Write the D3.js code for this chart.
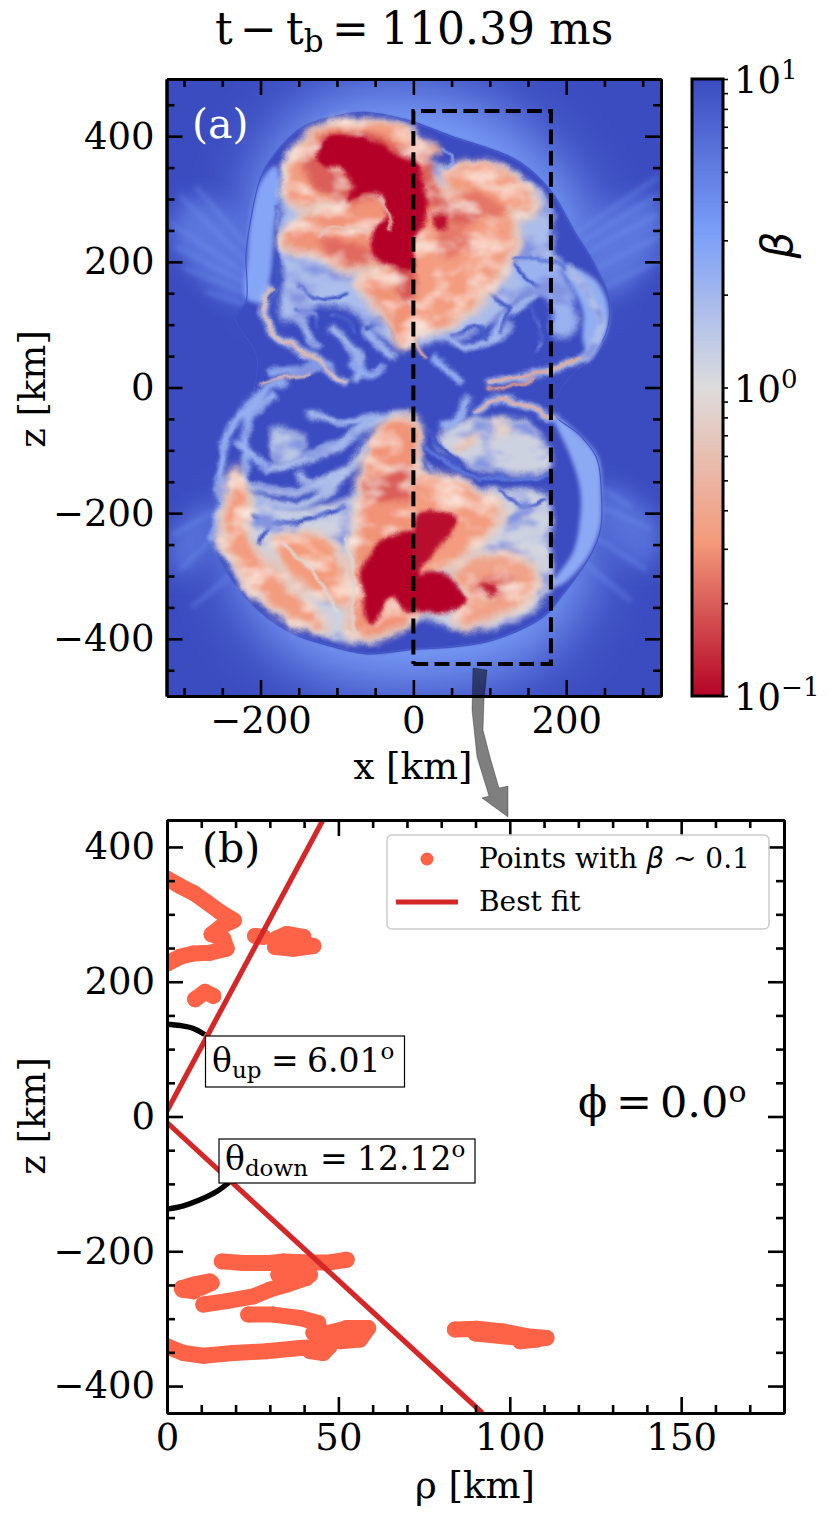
<!DOCTYPE html>
<html>
<head>
<meta charset="utf-8">
<script src="https://cdn.jsdelivr.net/npm/d3@7"></script>
<style>
  html, body { margin: 0; padding: 0; background: #fff; }
  svg text { font-family: "DejaVu Serif", serif; fill: #000; }
  .tick line { stroke: #000; stroke-width: 2.6; }
  .domain { stroke: #000; stroke-width: 3; fill: none; }
</style>
</head>
<body>
<div id="main"></div>
<script>
width = 830;
height = 1515;

// top panel, beta field: [beta, [[x km, z km], ...]]
xTicksTop = [-200, 0, 200];
zTicksTop = [-400, -200, 0, 200, 400];
xMinorTop = [-300, -250, -150, -100, -50, 50, 100, 150, 250, 300];
zMinorTop = [-450, -350, -300, -250, -150, -100, -50, 50, 100, 150, 250, 300, 350, 450];
cbarTicks = [0.1, 1, 10];
cbarMinor = [0.2, 0.3, 0.4, 0.5, 0.6, 0.7, 0.8, 0.9, 2, 3, 4, 5, 6, 7, 8, 9];
fitBox = [[0, -440], [180, -440], [180, 440], [0, 440], [0, -440]];

glowRegions = [
    [3.2, [[-205, 200], [-195, 360], [-120, 455], [0, 475], [120, 430], [225, 285], [235, 190], [120, 130], [-120, 130]]],
    [3.2, [[-235, -225], [-225, -325], [-150, -435], [0, -475], [150, -435], [225, -325], [225, -225], [120, -190], [-120, -190]]]
];
sideFans = [
    [5.5, [[-222, 135], [-222, 260], [-295, 300], [-315, 235]]],
    [5.5, [[215, 245], [252, 150], [320, 215], [320, 300]]],
    [6, [[-258, -185], [-264, -255], [-310, -300], [-318, -235]]],
    [6, [[246, -155], [246, -235], [310, -285], [322, -215]]]
];

rays = [
    [[-218, 200], [-305, 305]], [[-218, 180], [-318, 262]], [[-218, 165], [-312, 225]], [[-218, 150], [-300, 190]], [[-218, 132], [-272, 152]],
    [[-217, 225], [-285, 320]],
    [[212, 245], [320, 335]], [[220, 232], [318, 305]], [[228, 215], [318, 275]], [[240, 190], [320, 240]], [[250, 160], [325, 205]],
    [[-258, -195], [-315, -235]], [[-262, -240], [-305, -290]], [[-240, -300], [-290, -350]],
    [[246, -160], [285, -190]], [[246, -190], [310, -225]], [[240, -240], [305, -290]], [[225, -280], [285, -340]]
];

shockFront = [[-219, 136], [-219, 211], [-214, 258], [-200, 333], [-179, 375], [-144, 415], [-105, 431], [-65, 438], [-26, 431], [0, 423], [52, 399], [105, 378], [139, 359], [179, 314], [211, 248], [235, 200], [253, 152], [257, 120], [251, 83], [231, 46], [200, 10], [183, -39], [218, -76], [240, -113], [246, -166], [245, -225], [234, -262], [215, -298], [195, -330], [170, -365], [105, -402], [52, -413], [0, -417], [-61, -424], [-113, -410], [-157, -392], [-200, -357], [-235, -309], [-261, -251], [-264, -235], [-253, -193], [-253, -145], [-244, -92], [-227, -44], [-210, -7], [-205, 50], [-233, 112]];

// smooth pale bands just inside the shock
shellBands = [
    [2.8, [[-219, 142], [-217, 211], [-214, 258], [-200, 327], [-180, 353], [-174, 322], [-182, 253], [-187, 179], [-198, 136]]],
    [2.4, [[192, 195], [213, 189], [240, 169], [255, 126], [251, 83], [231, 51], [222, 73], [222, 121], [209, 158]]],
    [2.6, [[183, -44], [218, -76], [242, -113], [246, -166], [244, -225], [227, -272], [192, -315], [181, -315], [209, -262], [218, -209], [218, -161], [205, -108]]]
];

paleRegions = [
    [1.8, [[-174, 296], [-167, 349], [-148, 389], [-113, 415], [-61, 423], [0, 407], [0, 94], [-17, 67], [-52, 89], [-87, 126], [-126, 126], [-157, 105], [-174, 105], [-172, 179], [-179, 243]]],
    [1.8, [[17, 359], [39, 349], [96, 357], [144, 333], [179, 285], [185, 211], [196, 195], [170, 169], [131, 136], [105, 105], [61, 78], [17, 67], [0, 67], [0, 359]]],
    [2.2, [[131, 200], [183, 195], [209, 147], [209, 83], [183, 83], [179, 136], [139, 168]]],
    [1.2, [[-248, -224], [-231, -166], [-157, -193], [-70, -161], [-30, -55], [0, -55], [4, -145], [105, -161], [174, -171], [179, -251], [179, -325], [122, -378], [52, -381], [0, -368], [-52, -405], [-122, -394], [-187, -347], [-231, -299], [-257, -246]]],
    [1.2, [[30, -87], [52, -55], [105, -50], [148, -55], [174, -92], [179, -129], [126, -137], [61, -118]]],
    [1.5, [[-183, -65], [-144, -76], [-148, -113], [-179, -118]]]
];

// whitish rims under the orange patches
rimRegions = [
    [0.7, [[-172, 340], [-152, 395], [-113, 425], [-61, 428], [0, 410], [0, 280], [-70, 285], [-113, 280], [-148, 275], [-170, 300]]],
    [0.7, [[-178, 235], [-150, 272], [-105, 293], [-48, 312], [-20, 274], [-20, 190], [-52, 180], [-96, 185], [-131, 205], [-160, 212]]],
    [0.7, [[-80, 170], [-35, 195], [2, 195], [4, 85], [-17, 58], [-40, 105], [-65, 140]]],
    [0.7, [[0, 365], [30, 330], [48, 320], [87, 315], [130, 285], [145, 230], [115, 170], [95, 130], [55, 98], [26, 82], [0, 88]]],
    [0.7, [[35, 345], [61, 360], [100, 362], [140, 335], [165, 295], [160, 270], [120, 270], [70, 300]]],
    [0.7, [[-85, -400], [-90, -300], [-80, -205], [-75, -155], [-68, -105], [-32, -45], [4, -45], [12, -145], [12, -357], [-30, -398]]],
    [0.7, [[4, -135], [55, -140], [92, -162], [125, -198], [95, -250], [65, -277], [18, -305], [0, -305]]],
    [0.7, [[45, -296], [85, -265], [130, -260], [162, -285], [170, -312], [152, -345], [115, -368], [65, -388], [48, -360], [66, -325]]],
    [0.7, [[-256, -222], [-232, -120], [-212, -171], [-210, -235], [-185, -278], [-150, -318], [-105, -388], [-152, -385], [-200, -345], [-235, -292]]],
    [0.7, [[-188, -244], [-139, -225], [-95, -258], [-80, -355], [-125, -335], [-165, -305], [-182, -275]]]
];

orangeRegions = [
    [0.33, [[-163, 338], [-148, 386], [-113, 415], [-61, 420], [0, 404], [0, 296], [-70, 301], [-113, 296], [-148, 290], [-166, 306]]],
    [0.3, [[-170, 237], [-148, 264], [-105, 285], [-48, 304], [-26, 274], [-26, 200], [-52, 195], [-96, 195], [-131, 216], [-157, 221]]],
    [0.3, [[-70, 168], [-35, 189], [-2, 189], [0, 94], [-17, 70], [-35, 115], [-57, 147]]],
    [0.33, [[0, 359], [13, 349], [30, 322], [48, 312], [87, 306], [122, 285], [131, 232], [105, 179], [87, 142], [52, 110], [26, 94], [0, 99]]],
    [0.33, [[39, 338], [61, 351], [96, 354], [131, 333], [153, 301], [153, 285], [131, 285], [105, 296], [70, 312], [48, 322]]],
    [0.45, [[4, 394], [30, 389], [39, 378], [26, 367], [13, 370]]],
    [0.3, [[-74, -394], [-78, -304], [-70, -214], [-65, -161], [-61, -113], [-30, -55], [-4, -55], [2, -145], [2, -357], [-35, -389]]],
    [0.33, [[-246, -219], [-227, -134], [-221, -171], [-219, -235], [-192, -283], [-157, -325], [-118, -381], [-148, -373], [-192, -336], [-227, -288]]],
    [0.32, [[-179, -246], [-139, -235], [-105, -262], [-89, -347], [-122, -325], [-157, -299], [-174, -272]]],
    [0.33, [[4, -145], [52, -150], [87, -171], [109, -198], [87, -240], [61, -267], [13, -299], [2, -299]]],
    [0.36, [[52, -299], [87, -275], [126, -270], [153, -288], [159, -309], [144, -336], [113, -357], [70, -378], [57, -357], [74, -325]]],
    [0.6, [[52, -97], [83, -76], [78, -92], [57, -102]]],
    [0.8, [[105, -50], [131, -65], [109, -81]]],
    [0.2, [[-144, 370], [-122, 402], [-70, 410], [-9, 380], [0, 349], [-70, 290], [-96, 298], [-135, 327]]],
    [0.22, [[-126, 232], [-105, 237], [-70, 227], [-52, 205], [-70, 195], [-100, 205]]],
    [0.18, [[-26, 189], [-2, 189], [-2, 131], [-15, 147]]],
    [0.2, [[4, 386], [15, 383], [30, 327], [52, 301], [87, 274], [61, 256], [35, 274], [17, 296]]],
    [0.24, [[31, 248], [74, 248], [78, 227], [39, 211]]],
    [0.24, [[61, 306], [87, 309], [122, 285], [105, 269], [74, 285]]],
    [0.2, [[-65, -156], [-52, -145], [-4, -124], [-2, -171], [-35, -182], [-57, -177]]],
    [0.22, [[78, -315], [100, -299], [131, -299], [131, -320], [109, -336], [87, -325]]]
];

// saturated cores, beta at the bottom of the colour range
redRegions = [
    [0.1, [[-126, 375], [-113, 398], [-83, 399], [-44, 389], [-13, 365], [2, 357], [17, 306], [20, 274], [2, 243], [0, 195], [-9, 189], [-30, 192], [-52, 205], [-57, 227], [-44, 258], [-35, 274], [-44, 304], [-70, 306], [-87, 298], [-81, 325], [-96, 349], [-122, 354]]],
    [0.11, [[28, 274], [44, 272], [44, 253], [28, 253]]],
    [0.1, [[-70, -299], [-48, -251], [-26, -235], [-2, -230], [-2, -357], [-30, -336], [-52, -376], [-63, -368], [-65, -325]]],
    [0.11, [[4, -203], [61, -209], [39, -246], [13, -283], [2, -294]]],
    [0.1, [[2, -304], [22, -294], [44, -299], [61, -320], [70, -341], [52, -352], [17, -360], [2, -352]]],
    [0.12, [[87, -317], [105, -317], [109, -331], [100, -333]]]
];

wideStrands = [
    [1.6, [[-187, 158], [-196, 115], [-185, 89], [-157, 65], [-126, 44], [-109, 22], [-89, 10]]],
    [1.7, [[98, 6], [179, 28], [227, 51], [244, 105], [231, 147], [205, 189]]],
    [1.9, [[83, -39], [100, -23], [131, -23], [183, -47]]],
    [1.7, [[-214, -177], [-148, -187], [-91, -145], [-65, -92]]],
    [1.7, [[-214, -156], [-157, -166], [-87, -129]]],
    [1.8, [[-187, -129], [-122, -108], [-35, -44]]],
    [2.3, [[-261, -235], [-253, -193], [-248, -92], [-227, -44], [-200, -10], [-170, 9]]],
    [2.3, [[-218, -145], [-213, -39], [-183, -17]]],
    [2, [[-135, -44], [-87, -55], [-48, -44], [-17, -44]]],
    [2, [[-157, 126], [-144, 94], [-126, 67]]],
    [2, [[-105, 94], [-87, 67], [-70, 46], [-74, 14]]],
    [2, [[-61, 89], [-35, 57], [-26, 51]]],
    [2, [[44, 89], [61, 67], [83, 67], [126, 94]]],
    [2, [[105, 83], [122, 115], [157, 147]]],
    [1.4, [[-200, -200], [-150, -210], [-100, -200], [-70, -170]]],
    [1.8, [[-150, -140], [-120, -160], [-100, -140]]],
    [2.2, [[-230, -90], [-190, -130]]],
    [2, [[-60, -60], [-100, -90], [-140, -110]]],
    [1, [[60, -170], [110, -200], [160, -200]]],
    [1.1, [[120, -250], [170, -260]]],
    [2.4, [[-185, 25], [-140, 30], [-110, 35]]],
    [2.4, [[-80, 40], [-60, 20], [-40, 30]]],
    [2.4, [[30, 45], [50, 25], [60, 10]]],
    [2.2, [[70, -20], [60, -45], [40, -60]]]
];

// dark threads cut into the pale parts
voidStrands = [
    [9, [[-181, 285], [-179, 190], [-187, 142]]],
    [9, [[-150, 160], [-120, 140], [-90, 150]]],
    [9, [[-60, 90], [-40, 110], [-20, 60]]],
    [8, [[131, 205], [150, 170], [175, 160]]],
    [8, [[150, 130], [165, 100], [160, 60]]],
    [8, [[100, 150], [125, 130], [115, 90]]],
    [9, [[-214, -200], [-170, -215], [-120, -205], [-90, -190]]],
    [9, [[-200, -250], [-190, -220]]],
    [8, [[110, -165], [150, -190], [172, -180]]],
    [9, [[6, -70], [15, -110], [40, -140]]],
    [9, [[12, -60], [40, -100], [60, -125]]],
    [8, [[-152, 126], [-135, 118], [-126, 99]]],
    [8, [[-105, 115], [-87, 110], [-78, 89]]],
    [8, [[52, 83], [83, 94], [96, 78]]]
];

thinStrands = [
    [0.55, [[-187, 158], [-196, 115], [-185, 89], [-157, 65], [-126, 44], [-109, 22], [-89, 10]]],
    [0.6, [[-200, 4], [-165, 17], [-135, 22]]],
    [0.42, [[98, 6], [135, 17], [179, 28], [218, 46]]],
    [0.35, [[96, -4], [105, -7], [157, 14]]],
    [0.45, [[83, -39], [100, -23], [131, -23], [183, -47]]],
    [0.5, [[0, 83], [9, 57], [17, 46]]],
    [0.65, [[-126, 237], [-105, 253], [-70, 253], [-61, 243]]],
    [0.6, [[-44, 300], [-31, 274], [-28, 248]]],
    [0.9, [[-87, -240], [-78, -304], [-80, -368], [-74, -394]]],
    [1, [[-170, -250], [-125, -300], [-100, -360]]],
    [2.5, [[39, 382], [52, 365], [39, 349]]],
    [6, [[131, 205], [183, 200], [201, 189]]],
    [5, [[17, -92], [61, -134], [126, -145], [179, -140]]]
];

// bottom panel
rhoTicks = [0, 50, 100, 150];
rhoMinor = [10, 20, 30, 40, 60, 70, 80, 90, 110, 120, 130, 140, 160, 170];
zTicksBottom = [-400, -200, 0, 200, 400];
zMinorBottom = [-350, -300, -250, -150, -100, -50, 50, 100, 150, 250, 300, 350];

betaPoints = [
    [[0, 353], [3.8, 342], [7.7, 332], [11.6, 318], [15.5, 303.5], [19.5, 291], [16.4, 284], [13, 270.4], [16.4, 264], [17.4, 249], [12.5, 243], [7.7, 242], [3.8, 237], [0, 227]],
    [[8.2, 174], [11.1, 185], [13.5, 179]],
    [[25.7, 268], [28.1, 266.5]],
    [[31.5, 251.6], [36.8, 249], [42.7, 253], [37.8, 259], [32, 264], [34.9, 271], [39.8, 266.5], [33, 258], [40, 258]],
    [[16, -215], [22.3, -217.5], [30, -217.5], [34, -215], [41.7, -216.5], [47.5, -216.5], [52.4, -212.6]],
    [[32.5, -235], [36.8, -227.4], [41.7, -235], [36.8, -240]],
    [[10.6, -279], [17.4, -274], [25.2, -267], [30, -257], [34.9, -249.6], [40.7, -239.7]],
    [[4.3, -254.6], [7.7, -249.6], [12.5, -244.7], [7.7, -259.5], [4.5, -257], [10, -254], [13, -247]],
    [[23.7, -294], [31, -294], [38.8, -299], [44.1, -306.4], [44.6, -321]],
    [[42.7, -321], [47.5, -321], [52.4, -314], [58.7, -314], [56.3, -331], [50.5, -333.6], [47.5, -321], [54, -322]],
    [[0, -341], [4.8, -351], [10.6, -355], [19.3, -351], [29, -348.4], [38.8, -343.5], [47.5, -341], [45.6, -351], [41.7, -348]],
    [[84, -316], [90.3, -315], [98, -319], [104.9, -326], [110.7, -328.6], [103, -333.6], [108, -331], [90, -322], [98, -326]]
];
fitUp = [[0, 8], [45.5, 440]];
fitDown = [[0, -9], [92, -440]];
arcUp = [[0, 137], [3.8, 135], [7.7, 130.6], [11, 121.6]];
arcDown = [[0, -137.5], [4.8, -132.6], [9.6, -123.7], [14.5, -111.4], [18.4, -96.5]];

// grey arrow between the panels, page pixels
arrowOutline = [[473, 668], [487, 670], [484, 700], [483, 730], [490, 757], [499, 788], [508, 786], [508, 817], [482, 798], [489, 796], [477, 757], [472, 710]];

coolwarm = d3.piecewise(d3.interpolateRgb, ["#b40426", "#f49a7b", "#dddcdc", "#7b9ff9", "#3b4cc0"]);
betaNorm = d3.scaleLog().domain([0.1, 10]).range([0, 1]).clamp(true);
betaColor = (b) => coolwarm(betaNorm(b));

top_margins = {left: 166.5, right: 661, top: 79, bottom: 696};
bottom_margins = {left: 167, right: 784, top: 820, bottom: 1413};

var svg = d3.select("#main").append("svg")
    .attr("width", width)
    .attr("height", height)
    .style("display", "block");

var defs = svg.append("defs");
[["blur-glow", 30], ["blur-fan", 11], ["blur-ray", 2.4], ["blur-soft", 3.4], ["blur-deep", 2.2], ["blur-fine", 0.8]].forEach((f) => {
    defs.append("filter").attr("id", f[0])
        .attr("x", "-60%").attr("y", "-60%").attr("width", "220%").attr("height", "220%")
        .append("feGaussianBlur").attr("stdDeviation", f[1]);
});

// wavy edges for the turbulent interior, with optional streaks laid on top
function wobbleFilter(id, freq, streakMatrix) {
    var f = defs.append("filter").attr("id", id)
        .attr("filterUnits", "userSpaceOnUse")
        .attr("x", top_margins.left).attr("y", top_margins.top)
        .attr("width", top_margins.right - top_margins.left)
        .attr("height", top_margins.bottom - top_margins.top);
    f.append("feTurbulence").attr("type", "fractalNoise").attr("baseFrequency", 0.045)
        .attr("numOctaves", 3).attr("seed", 7).attr("result", "noise");
    f.append("feDisplacementMap").attr("in", "SourceGraphic").attr("in2", "noise")
        .attr("scale", 10).attr("xChannelSelector", "R").attr("yChannelSelector", "G").attr("result", "moved");
    if (streakMatrix) {
        f.append("feTurbulence").attr("type", "fractalNoise").attr("baseFrequency", freq)
            .attr("numOctaves", 4).attr("seed", 3).attr("result", "grain");
        f.append("feColorMatrix").attr("in", "grain").attr("type", "matrix").attr("values", streakMatrix);
        f.append("feGaussianBlur").attr("stdDeviation", 1.4).attr("result", "tint");
        f.append("feComposite").attr("in", "tint").attr("in2", "moved").attr("operator", "in").attr("result", "streaks");
        var merge = f.append("feMerge");
        merge.append("feMergeNode").attr("in", "moved");
        merge.append("feMergeNode").attr("in", "streaks");
    }
}
wobbleFilter("wobble", 0, null);
wobbleFilter("wobble-dark", "0.028 0.05", "0 0 0 0 0.23  0 0 0 0 0.3  0 0 0 0 0.75  0 4 0 0 -1.95");
wobbleFilter("wobble-light", "0.03 0.055", "0 0 0 0 0.96  0 0 0 0 0.8  0 0 0 0 0.72  2.4 0 0 0 -1.1");

defs.append("clipPath").attr("id", "clip-top").append("rect")
    .attr("x", top_margins.left).attr("y", top_margins.top)
    .attr("width", top_margins.right - top_margins.left)
    .attr("height", top_margins.bottom - top_margins.top);
defs.append("clipPath").attr("id", "clip-bottom").append("rect")
    .attr("x", bottom_margins.left).attr("y", bottom_margins.top)
    .attr("width", bottom_margins.right - bottom_margins.left)
    .attr("height", bottom_margins.bottom - bottom_margins.top);

var gradient = defs.append("linearGradient").attr("id", "cbar")
    .attr("x1", 0).attr("y1", 1).attr("x2", 0).attr("y2", 0);
d3.range(0, 1.001, 0.05).forEach((t) => {
    gradient.append("stop").attr("offset", t).attr("stop-color", coolwarm(t));
});

// ---- panel (a)
var xTop = d3.scaleLinear().domain([-323, 324]).range([top_margins.left, top_margins.right]);
var zTop = d3.scaleLinear().domain([-491, 491]).range([top_margins.bottom, top_margins.top]);
var lineTop = d3.line().x((d) => xTop(d[0])).y((d) => zTop(d[1]));
var blobTop = d3.line().x((d) => xTop(d[0])).y((d) => zTop(d[1])).curve(d3.curveCatmullRomClosed.alpha(0.5));
var strandTop = d3.line().x((d) => xTop(d[0])).y((d) => zTop(d[1])).curve(d3.curveCatmullRom.alpha(0.5));

var field = svg.append("g").attr("clip-path", "url(#clip-top)");
field.append("rect")
    .attr("x", top_margins.left).attr("y", top_margins.top)
    .attr("width", top_margins.right - top_margins.left)
    .attr("height", top_margins.bottom - top_margins.top)
    .attr("fill", betaColor(10));

function drawBlobs(parent, rows, filter) {
    parent.append("g").attr("filter", "url(#" + filter + ")")
        .selectAll("path").data(rows).enter().append("path")
        .attr("d", (d) => blobTop(d[1]))
        .attr("fill", (d) => betaColor(d[0]));
}
function drawStrands(parent, rows, filter, w) {
    parent.append("g").attr("filter", "url(#" + filter + ")")
        .selectAll("path").data(rows).enter().append("path")
        .attr("d", (d) => strandTop(d[1]))
        .attr("fill", "none")
        .attr("stroke", (d) => betaColor(d[0]))
        .attr("stroke-width", w)
        .attr("stroke-linecap", "round");
}

drawBlobs(field, glowRegions, "blur-glow");
drawBlobs(field, sideFans, "blur-fan");
field.append("g").attr("filter", "url(#blur-ray)")
    .selectAll("path").data(rays).enter().append("path")
    .attr("d", lineTop)
    .attr("stroke", betaColor(3.6))
    .attr("stroke-width", 4)
    .attr("stroke-opacity", 0.4)
    .attr("fill", "none");
field.append("path")
    .attr("d", blobTop(shockFront))
    .attr("fill", betaColor(10))
    .attr("filter", "url(#blur-fine)");
drawBlobs(field, shellBands, "blur-deep");
field.append("path")
    .attr("d", blobTop(shockFront))
    .attr("fill", "none")
    .attr("stroke", betaColor(9))
    .attr("stroke-width", 1.1);

var paleLayer = field.append("g").attr("filter", "url(#wobble-dark)");
drawBlobs(paleLayer, paleRegions, "blur-soft");
drawStrands(paleLayer, wideStrands, "blur-deep", 8);
drawStrands(paleLayer, voidStrands, "blur-fine", 4);

var orangeLayer = field.append("g").attr("filter", "url(#wobble-light)");
drawBlobs(orangeLayer, rimRegions, "blur-soft");
drawBlobs(orangeLayer, orangeRegions, "blur-soft");

var coreLayer = field.append("g").attr("filter", "url(#wobble)");
drawBlobs(coreLayer, redRegions, "blur-deep");
drawStrands(coreLayer, thinStrands, "blur-fine", 2.8);

field.append("path")
    .attr("d", lineTop(fitBox))
    .attr("fill", "none")
    .attr("stroke", "#000")
    .attr("stroke-width", 4)
    .attr("stroke-dasharray", "14.8,6.4");

function innerAxis(axis, values, size, pad, at, labels) {
    var g = svg.append("g").attr("transform", "translate(" + at[0] + "," + at[1] + ")")
        .call(axis.tickValues(values).tickSizeOuter(0).tickSizeInner(-size).tickPadding(pad)
            .tickFormat(labels ? (d) => String(d).replace("-", "\u2212") : () => ""));
    g.selectAll("text").style("font-size", "37px").style("font-family", '"DejaVu Serif", serif');
    return g;
}

innerAxis(d3.axisBottom(xTop), xMinorTop, 8, 0, [0, top_margins.bottom], false);
innerAxis(d3.axisTop(xTop), xMinorTop, 8, 0, [0, top_margins.top], false);
innerAxis(d3.axisLeft(zTop), zMinorTop, 8, 0, [top_margins.left, 0], false);
innerAxis(d3.axisRight(zTop), zMinorTop, 8, 0, [top_margins.right, 0], false);
innerAxis(d3.axisBottom(xTop), xTicksTop, 16, 11, [0, top_margins.bottom], true);
innerAxis(d3.axisTop(xTop), xTicksTop, 16, 0, [0, top_margins.top], false);
innerAxis(d3.axisLeft(zTop), zTicksTop, 16, 12, [top_margins.left, 0], true);
innerAxis(d3.axisRight(zTop), zTicksTop, 16, 0, [top_margins.right, 0], false);

svg.append("text").attr("x", 192).attr("y", 138)
    .style("font-size", "41px").style("fill", "#fff").text("(a)");

svg.append("text").attr("x", 413).attr("y", 779).attr("text-anchor", "middle")
    .style("font-size", "37px").text("x [km]");
svg.append("text").attr("transform", "translate(45,389) rotate(-90)").attr("text-anchor", "middle")
    .style("font-size", "37px").text("z [km]");

var title = svg.append("text").attr("y", 44).style("font-size", "44px");
title.append("tspan").attr("x", 215).text("t");
title.append("tspan").attr("x", 240).text("\u2212");
title.append("tspan").attr("x", 286).text("t");
title.append("tspan").attr("dy", 8).style("font-size", "31px").text("b");
title.append("tspan").attr("dy", -8).attr("x", 332).text("=");
title.append("tspan").attr("x", 381).text("110.39");
title.append("tspan").attr("x", 549).text("ms");

// colorbar
var cbarScale = d3.scaleLog().domain([0.1, 10]).range([top_margins.bottom, top_margins.top]);
svg.append("rect")
    .attr("x", 692).attr("y", top_margins.top)
    .attr("width", 31).attr("height", top_margins.bottom - top_margins.top)
    .attr("fill", "url(#cbar)")
    .attr("stroke", "#000").attr("stroke-width", 3);
[cbarTicks, cbarMinor].forEach((vals) => {
    var ax = svg.append("g").attr("transform", "translate(723,0)")
        .call(d3.axisRight(cbarScale).tickValues(vals).tickSizeOuter(0).tickSize(5).tickFormat(() => ""));
    ax.select(".domain").remove();
    ax.selectAll(".tick line").style("stroke-width", 1.6);
});
cbarTicks.forEach((t) => {
    var label = svg.append("text").attr("x", 734).attr("y", cbarScale(t) + 14).style("font-size", "37px");
    label.append("tspan").text("10");
    label.append("tspan").attr("dy", -14).style("font-size", "26px").text(String(Math.round(Math.log10(t))).replace("-", "\u2212"));
});
svg.append("text").attr("transform", "translate(792,245) rotate(-90)").attr("text-anchor", "middle")
    .style("font-size", "42px").style("font-style", "italic").style("font-family", '"DejaVu Sans", sans-serif').text("\u03b2");

// ---- panel (b)
var rho = d3.scaleLinear().domain([0, 180]).range([bottom_margins.left, bottom_margins.right]);
var zBottom = d3.scaleLinear().domain([-440, 440]).range([bottom_margins.bottom, bottom_margins.top]);
var lineBottom = d3.line().x((d) => rho(d[0])).y((d) => zBottom(d[1]));
var arcLine = d3.line().x((d) => rho(d[0])).y((d) => zBottom(d[1])).curve(d3.curveCatmullRom.alpha(0.5));

var plot = svg.append("g").attr("clip-path", "url(#clip-bottom)");
plot.selectAll("path.ridge").data(betaPoints).enter().append("path")
    .attr("class", "ridge")
    .attr("d", lineBottom)
    .attr("fill", "none")
    .attr("stroke", "#ff6347")
    .attr("stroke-width", 16)
    .attr("stroke-linecap", "round")
    .attr("stroke-linejoin", "round");
plot.selectAll("circle").data(betaPoints.flat()).enter().append("circle")
    .attr("cx", (d) => rho(d[0]))
    .attr("cy", (d) => zBottom(d[1]))
    .attr("r", 8)
    .attr("fill", "#ff6347");
[arcUp, arcDown].forEach((a) => {
    plot.append("path").attr("d", arcLine(a)).attr("fill", "none").attr("stroke", "#000").attr("stroke-width", 5.4);
});
[fitUp, fitDown].forEach((l) => {
    plot.append("path").attr("d", lineBottom(l)).attr("fill", "none").attr("stroke", "#d62728").attr("stroke-width", 5.2);
});

innerAxis(d3.axisBottom(rho), rhoMinor, 8, 0, [0, bottom_margins.bottom], false);
innerAxis(d3.axisTop(rho), rhoMinor, 8, 0, [0, bottom_margins.top], false);
innerAxis(d3.axisLeft(zBottom), zMinorBottom, 8, 0, [bottom_margins.left, 0], false);
innerAxis(d3.axisRight(zBottom), zMinorBottom, 8, 0, [bottom_margins.right, 0], false);
innerAxis(d3.axisBottom(rho), rhoTicks, 16, 11, [0, bottom_margins.bottom], true);
innerAxis(d3.axisTop(rho), rhoTicks, 16, 0, [0, bottom_margins.top], false);
innerAxis(d3.axisLeft(zBottom), zTicksBottom, 16, 12, [bottom_margins.left, 0], true);
innerAxis(d3.axisRight(zBottom), zTicksBottom, 16, 0, [bottom_margins.right, 0], false);

svg.append("text").attr("x", 202).attr("y", 862).style("font-size", "41px").text("(b)");
svg.append("text").attr("x", 475).attr("y", 1498).attr("text-anchor", "middle")
    .style("font-size", "37px").text("\u03c1 [km]");
svg.append("text").attr("transform", "translate(45,1116) rotate(-90)").attr("text-anchor", "middle")
    .style("font-size", "37px").text("z [km]");

// angle labels
function angleLabel(box, tx, ty, sub, eqX, valX, value) {
    svg.append("rect").attr("x", box[0]).attr("y", box[1]).attr("width", box[2]).attr("height", box[3])
        .attr("fill", "#fff").attr("stroke", "#000").attr("stroke-width", 1.2);
    var t = svg.append("text").attr("y", ty).style("font-size", "33px");
    t.append("tspan").attr("x", tx).text("\u03b8");
    t.append("tspan").attr("dy", 6).style("font-size", "23px").text(sub);
    t.append("tspan").attr("dy", -6).attr("x", eqX).text("=");
    t.append("tspan").attr("x", valX).text(value);
    t.append("tspan").attr("dy", -13).style("font-size", "23px").text("o");
}
angleLabel([205.5, 1036, 199, 51], 212, 1072, "up", 271, 307, "6.01");
angleLabel([219, 1139, 256, 44], 225, 1170, "down", 320, 357, "12.12");

var phi = svg.append("text").attr("y", 1117).style("font-size", "43px");
phi.append("tspan").attr("x", 578).text("\u03d5");
phi.append("tspan").attr("x", 616).text("=");
phi.append("tspan").attr("x", 660).text("0.0");
phi.append("tspan").attr("dy", -15).style("font-size", "30px").text("o");

// legend
svg.append("rect").attr("x", 387).attr("y", 835).attr("width", 382).attr("height", 94).attr("rx", 5)
    .attr("fill", "#fff").attr("fill-opacity", 0.8).attr("stroke", "#ccc").attr("stroke-width", 1.5);
svg.append("circle").attr("cx", 427).attr("cy", 859).attr("r", 6.5).attr("fill", "#ff6347");
svg.append("line").attr("x1", 396).attr("x2", 458).attr("y1", 902).attr("y2", 902)
    .attr("stroke", "#d62728").attr("stroke-width", 5.2);
var leg = svg.append("text").attr("x", 479).attr("y", 868).style("font-size", "28px");
leg.append("tspan").text("Points with ");
leg.append("tspan").style("font-style", "italic").style("font-family", '"DejaVu Sans", sans-serif').text("\u03b2");
leg.append("tspan").text(" ~ 0.1");
svg.append("text").attr("x", 479).attr("y", 911).style("font-size", "28px").text("Best fit");

// arrow on top of both panels
svg.append("path")
    .attr("d", d3.line().curve(d3.curveLinear)(arrowOutline) + "Z")
    .attr("fill", "#000").attr("fill-opacity", 0.5)
    .attr("stroke", "#000").attr("stroke-opacity", 0.3).attr("stroke-width", 1);
</script>
</body>
</html>
